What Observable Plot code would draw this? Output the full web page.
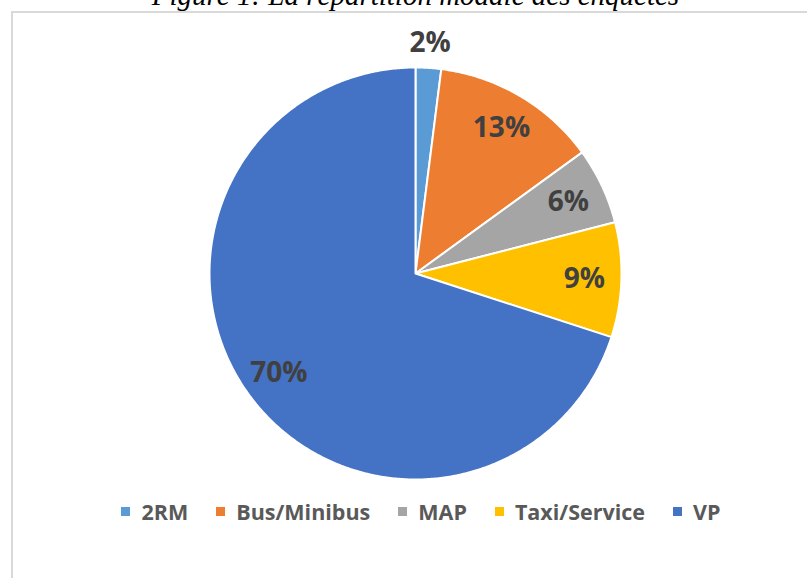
<!DOCTYPE html>
<html><head><meta charset="utf-8">
<script src="https://cdn.jsdelivr.net/npm/d3@7"></script>
<script src="https://cdn.jsdelivr.net/npm/@observablehq/plot@0.6"></script>
<style>
body{margin:0;background:#fff;}
#wrap{position:relative;width:807px;height:578px;overflow:hidden;background:#fff;}
#frame{position:absolute;left:11px;top:11px;width:900px;height:700px;border:2px solid #d9d9d9;box-sizing:border-box;}
#title{position:absolute;left:0;width:831px;top:-19px;text-align:center;font-family:"Liberation Serif",serif;font-style:italic;font-size:29px;line-height:29px;color:#000;white-space:nowrap;}
#chart{position:absolute;left:0;top:0;}
#legend{position:absolute;left:0;width:842px;top:495px;}
.lg-swatches{justify-content:center;margin:0 !important;}
.lg-swatch{margin:0 14px !important;color:#595959;}
.lg-swatch > svg{margin-right:11px !important;}
</style></head><body>
<div id="wrap"><div id="frame"></div><div id="title">Figure 1: La répartition modale des enquêtés</div><div id="chart"></div><div id="legend"></div></div>
<script>
const categories = ["2RM", "Bus/Minibus", "MAP", "Taxi/Service", "VP"];
const shares = [2, 13, 6, 9, 70];
const colors = ["#5B9BD5", "#ED7D31", "#A5A5A5", "#FFC000", "#4472C4"];
const labels = ["2%", "13%", "6%", "9%", "70%"];

const total = d3.sum(shares);
let acc = 0;
const slices = categories.map((name, i) => {
  const a0 = acc / total * 2 * Math.PI;
  acc += shares[i];
  const a1 = acc / total * 2 * Math.PI;
  return {name, a0, a1, value: shares[i], label: labels[i]};
});
// wedge outlines (geometry of each slice, in unit-circle coordinates)
const outline = slices.flatMap(s => {
  const n = Math.max(2, Math.ceil((s.a1 - s.a0) / (Math.PI / 360)));
  const pts = [{name: s.name, x: 0, y: 0}];
  for (let k = 0; k <= n; k++) {
    const a = s.a0 + (s.a1 - s.a0) * k / n;
    pts.push({name: s.name, x: Math.sin(a), y: Math.cos(a)});
  }
  pts.push({name: s.name, x: 0, y: 0});
  return pts;
});
const labelPts = slices.map(s => {
  const a = (s.a0 + s.a1) / 2;
  const r = s.value < 4 ? 1.12 : 0.82;
  return {text: s.label, x: r * Math.sin(a), y: r * Math.cos(a)};
});

const colorScale = {domain: categories, range: colors};
const chart = Plot.plot({
  width: 807, height: 578,
  x: {domain: [-1, 1], range: [209, 621], axis: null},
  y: {domain: [-1, 1], range: [479, 67], axis: null},
  color: colorScale,
  style: {background: "transparent", overflow: "visible"},
  marks: [
    Plot.line(outline, {x: "x", y: "y", z: "name", fill: "name", stroke: "white", strokeWidth: 2, strokeLinejoin: "round"}),
    Plot.text(labelPts, {x: "x", y: "y", text: "text", fill: "#404040", fontSize: 28, fontWeight: "bold", fontFamily: "Open Sans"})
  ]
});
document.getElementById("chart").appendChild(chart);
const legend = Plot.legend({
  color: colorScale, legend: "swatches", swatchSize: 9, className: "lg",
  style: "font-family:'Open Sans',sans-serif;font-size:21.5px;font-weight:bold;color:#595959;"
});
document.getElementById("legend").appendChild(legend);
</script>
</body></html>
